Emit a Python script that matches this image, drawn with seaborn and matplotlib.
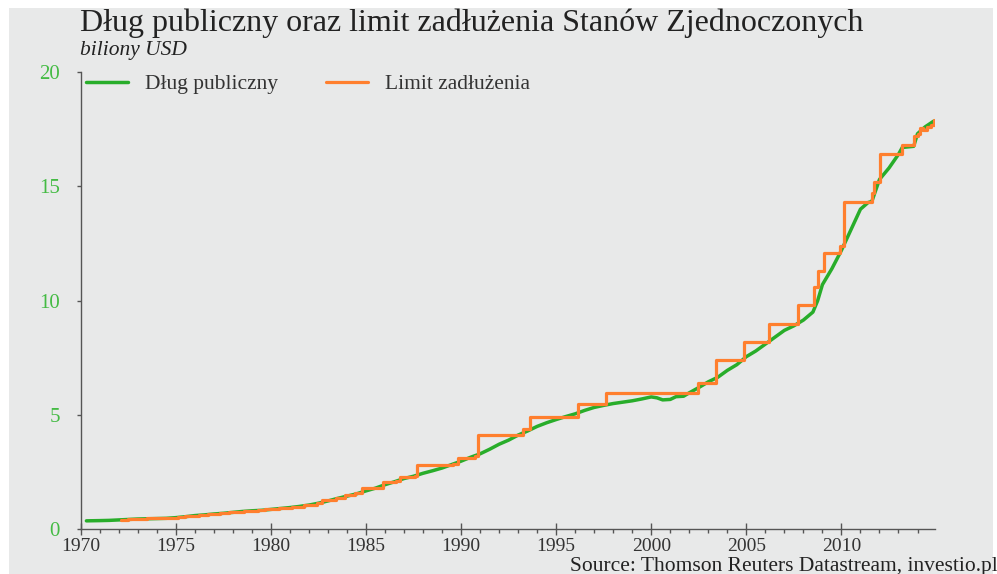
import matplotlib
matplotlib.use("Agg")
import matplotlib.pyplot as plt
import seaborn as sns
import pandas as pd
from matplotlib.patches import Rectangle
from matplotlib.ticker import MultipleLocator

# public debt (trillion USD)
debt_t = [1970.3, 1971.0, 1971.5, 1972.0, 1972.5, 1973.0, 1973.5, 1974.0, 1974.5,
          1975.0, 1975.5, 1976.0, 1976.5, 1977.0, 1977.5, 1978.0, 1978.5, 1979.0,
          1979.5, 1980.0, 1980.5, 1981.0, 1981.5, 1982.0, 1982.5, 1983.0, 1983.5,
          1984.0, 1984.5, 1985.0, 1985.5, 1986.0, 1986.5, 1987.0, 1987.5, 1988.0,
          1988.5, 1989.0, 1989.5, 1990.0, 1990.5, 1991.0, 1991.5, 1992.0, 1992.5,
          1993.0, 1993.5, 1994.0, 1994.5, 1995.0, 1995.5, 1996.0, 1996.5, 1997.0,
          1997.5, 1998.0, 1998.5, 1999.0, 1999.5, 2000.0, 2000.3, 2000.6, 2001.0,
          2001.3, 2001.7, 2002.0, 2002.5, 2003.0, 2003.5, 2004.0, 2004.5, 2005.0,
          2005.5, 2006.0, 2006.5, 2007.0, 2007.5, 2008.0, 2008.5, 2008.75, 2009.0,
          2009.5, 2010.0, 2010.5, 2011.0, 2011.4, 2011.6, 2012.0, 2012.5, 2013.0,
          2013.2, 2013.8, 2014.0, 2014.4, 2014.85]
debt_v = [0.37, 0.38, 0.39, 0.41, 0.43, 0.45, 0.46, 0.47, 0.48,
          0.51, 0.55, 0.60, 0.63, 0.67, 0.70, 0.74, 0.78, 0.81,
          0.83, 0.87, 0.91, 0.95, 1.00, 1.06, 1.14, 1.24, 1.35,
          1.45, 1.55, 1.68, 1.80, 1.95, 2.08, 2.22, 2.32, 2.45,
          2.56, 2.68, 2.83, 2.98, 3.15, 3.30, 3.50, 3.72, 3.90,
          4.12, 4.30, 4.50, 4.66, 4.80, 4.93, 5.05, 5.20, 5.33,
          5.42, 5.50, 5.56, 5.62, 5.70, 5.79, 5.75, 5.66, 5.68,
          5.80, 5.82, 5.97, 6.20, 6.45, 6.65, 6.95, 7.20, 7.55,
          7.80, 8.10, 8.40, 8.70, 8.90, 9.15, 9.50, 10.0, 10.7,
          11.40, 12.20, 13.10, 14.00, 14.29, 14.34, 15.30, 15.80, 16.40,
          16.70, 16.75, 17.30, 17.60, 17.85]

# debt ceiling (trillion USD)
limit_t = [1972.1, 1972.5, 1972.8, 1973.5, 1974.45, 1975.1, 1975.5, 1975.85, 1976.2,
           1976.7, 1977.3, 1977.8, 1978.6, 1979.3, 1979.7, 1980.45, 1980.95, 1981.1,
           1981.75, 1982.45, 1982.7, 1983.4, 1983.9, 1984.4, 1984.8, 1985.9, 1986.6,
           1986.8, 1987.6, 1987.7, 1989.6, 1989.85, 1990.75, 1990.87, 1993.25, 1993.62,
           1996.15, 1997.6, 2002.45, 2003.38, 2004.88, 2006.2, 2007.72, 2008.55, 2008.78,
           2009.1, 2009.95, 2010.12, 2011.6, 2011.72, 2012.05, 2013.08, 2013.2, 2013.8,
           2014.0, 2014.15, 2014.3, 2014.5, 2014.7, 2014.86]
limit_v = [0.40, 0.45, 0.465, 0.475, 0.495, 0.531, 0.577, 0.595, 0.627,
           0.682, 0.70, 0.752, 0.798, 0.83, 0.879, 0.925, 0.935, 0.985,
           1.079, 1.143, 1.29, 1.389, 1.49, 1.573, 1.824, 2.079, 2.111,
           2.30, 2.32, 2.80, 2.87, 3.123, 3.195, 4.145, 4.37, 4.90,
           5.50, 5.95, 6.40, 7.384, 8.184, 8.965, 9.815, 10.615, 11.315,
           12.104, 12.394, 14.294, 14.694, 15.194, 16.394, 16.40, 16.80, 17.20,
           17.30, 17.55, 17.47, 17.60, 17.70, 17.88]

year_ticks = [1970, 1975, 1980, 1985, 1990, 1995, 2000, 2005, 2010]
value_ticks = [0, 5, 10, 15, 20]

GREEN = "#28ad2a"
ORANGE = "#ff7f2e"
BG = "#e8e9e9"
SERIF = ["Liberation Serif", "DejaVu Serif"]

sns.set_style("ticks")
plt.rcParams["font.family"] = SERIF

debt = pd.DataFrame({"rok": debt_t, "wartosc": debt_v})
limit = pd.DataFrame({"rok": limit_t, "wartosc": limit_v})

fig = plt.figure(figsize=(9.97, 5.74), dpi=100, facecolor="white")
fig.patches.append(Rectangle((9 / 997, 0), 984 / 997, 566 / 574, transform=fig.transFigure,
                             facecolor=BG, edgecolor="none", zorder=-10))
ax = fig.add_axes([80.7 / 997, (574 - 529.3) / 574, (935 - 80.7) / 997, (529.3 - 72) / 574])
ax.set_facecolor("none")

sns.lineplot(data=debt, x="rok", y="wartosc", ax=ax, color=GREEN, linewidth=2.5,
             label="Dług publiczny", estimator=None, sort=False)
sns.lineplot(data=limit, x="rok", y="wartosc", ax=ax, color=ORANGE, linewidth=2.3,
             label="Limit zadłużenia", drawstyle="steps-post", estimator=None, sort=False)

ax.set_xlim(1970, 2014.92)
ax.set_ylim(0, 20)
ax.set_xticks(year_ticks)
ax.xaxis.set_minor_locator(MultipleLocator(1))
ax.set_yticks(value_ticks)
ax.set_xlabel("")
ax.set_ylabel("")

for s in ["top", "right"]:
    ax.spines[s].set_visible(False)
for s in ["left", "bottom"]:
    ax.spines[s].set_color("#555555")
    ax.spines[s].set_linewidth(1.0)

ax.tick_params(axis="x", which="major", direction="inout", length=8, width=1,
               color="#555555", labelsize=14, labelcolor="#333333", pad=2)
ax.tick_params(axis="x", which="minor", direction="out", length=3, width=1, color="#555555")
ax.tick_params(axis="y", which="major", direction="out", length=3, width=1,
               color="#555555", labelsize=15, labelcolor="#44bb44", pad=12)

leg = ax.legend(loc="upper left", bbox_to_anchor=(0.0, 1.007), ncol=2, frameon=False,
                fontsize=15.5, handlelength=1.95, columnspacing=2.2, handletextpad=0.8,
                borderaxespad=0.25, borderpad=0.0)
for t in leg.get_texts():
    t.set_color("#333333")

fig.text(80 / 997, 1 - 23 / 574, "Dług publiczny oraz limit zadłużenia Stanów Zjednoczonych",
         fontsize=23, color="#222222", va="center", ha="left")
fig.text(80 / 997, 1 - 51 / 574, "biliony USD", fontsize=15.5, style="italic",
         color="#222222", va="center", ha="left")
fig.text(570 / 997, 1 - 566 / 574, "Source: Thomson Reuters Datastream, investio.pl",
         fontsize=15.5, color="#222222", va="center", ha="left")

fig.savefig("out.png", dpi=100, facecolor=fig.get_facecolor())
